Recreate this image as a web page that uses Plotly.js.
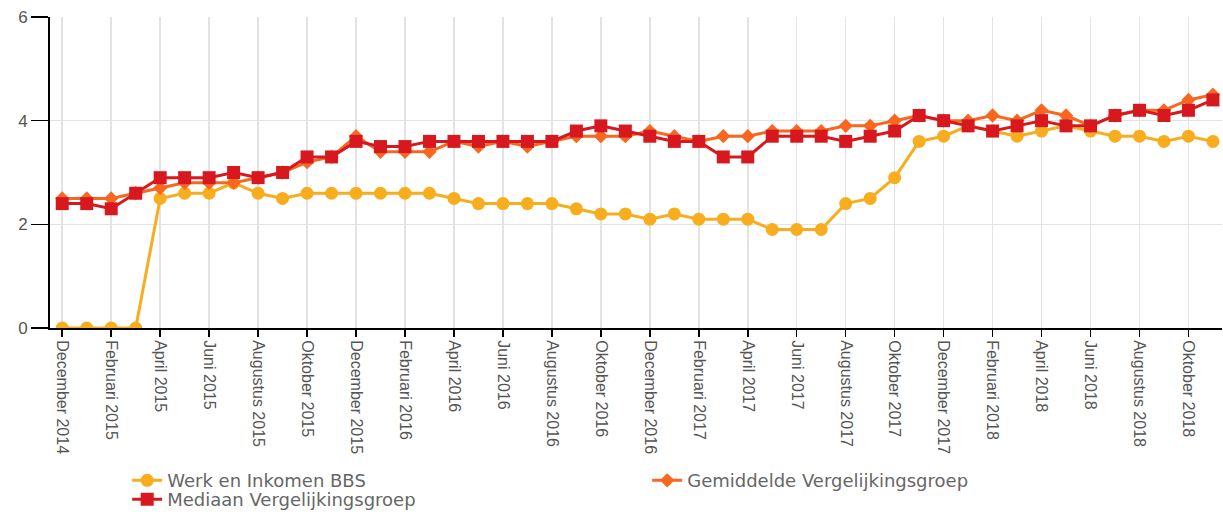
<!DOCTYPE html>
<html>
<head>
<meta charset="utf-8">
<script src="https://cdn.plot.ly/plotly-3.0.1.min.js"></script>
<style>html,body{margin:0;padding:0;background:#fff;}#chart{width:1223px;height:514px;}</style>
</head>
<body>
<div id="chart"></div>
<script>
const months = [
  "December 2014","Januari 2015","Februari 2015","Maart 2015","April 2015","Mei 2015","Juni 2015","Juli 2015","Augustus 2015","September 2015","Oktober 2015","November 2015",
  "December 2015","Januari 2016","Februari 2016","Maart 2016","April 2016","Mei 2016","Juni 2016","Juli 2016","Augustus 2016","September 2016","Oktober 2016","November 2016",
  "December 2016","Januari 2017","Februari 2017","Maart 2017","April 2017","Mei 2017","Juni 2017","Juli 2017","Augustus 2017","September 2017","Oktober 2017","November 2017",
  "December 2017","Januari 2018","Februari 2018","Maart 2018","April 2018","Mei 2018","Juni 2018","Juli 2018","Augustus 2018","September 2018","Oktober 2018","November 2018"
];
const tickLabels = months.filter((m, i) => i % 2 === 0);

const werkEnInkomen = [0,0,0,0,2.5,2.6,2.6,2.8,2.6,2.5,2.6,2.6,
  2.6,2.6,2.6,2.6,2.5,2.4,2.4,2.4,2.4,2.3,2.2,2.2,
  2.1,2.2,2.1,2.1,2.1,1.9,1.9,1.9,2.4,2.5,2.9,3.6,
  3.7,3.9,3.8,3.7,3.8,3.9,3.8,3.7,3.7,3.6,3.7,3.6];
const gemiddelde = [2.5,2.5,2.5,2.6,2.7,2.8,2.8,2.8,2.9,3.0,3.2,3.3,
  3.7,3.4,3.4,3.4,3.6,3.5,3.6,3.5,3.6,3.7,3.7,3.7,
  3.8,3.7,3.6,3.7,3.7,3.8,3.8,3.8,3.9,3.9,4.0,4.1,
  4.0,4.0,4.1,4.0,4.2,4.1,3.9,4.1,4.2,4.2,4.4,4.5];
const mediaan = [2.4,2.4,2.3,2.6,2.9,2.9,2.9,3.0,2.9,3.0,3.3,3.3,
  3.6,3.5,3.5,3.6,3.6,3.6,3.6,3.6,3.6,3.8,3.9,3.8,
  3.7,3.6,3.6,3.3,3.3,3.7,3.7,3.7,3.6,3.7,3.8,4.1,
  4.0,3.9,3.8,3.9,4.0,3.9,3.9,4.1,4.2,4.1,4.2,4.4];

const traces = [
  {name: "Werk en Inkomen BBS", x: months, y: werkEnInkomen, type: "scatter", mode: "lines+markers",
   line: {color: "#f7ad1d", width: 3}, marker: {symbol: "circle", size: 13, color: "#f7ad1d"}, legend: "legend"},
  {name: "Gemiddelde Vergelijkingsgroep", x: months, y: gemiddelde, type: "scatter", mode: "lines+markers",
   line: {color: "#f8661f", width: 3}, marker: {symbol: "diamond", size: 11, color: "#f8661f"}, legend: "legend"},
  {name: "Mediaan Vergelijkingsgroep", x: months, y: mediaan, type: "scatter", mode: "lines+markers",
   line: {color: "#d7191f", width: 3}, marker: {symbol: "square", size: 13, color: "#d7191f"}, legend: "legend2"}
];

const legendFont = {family: "DejaVu Sans, sans-serif", size: 18, color: "#666"};

const layout = {
  width: 1223, height: 514,
  margin: {l: 50, r: 1, t: 17, b: 186},
  paper_bgcolor: "#fff", plot_bgcolor: "#fff",
  font: {family: "Liberation Sans, Arial, sans-serif", color: "#555"},
  showlegend: true,
  xaxis: {
    type: "category", categoryorder: "array", categoryarray: months,
    range: [-0.5, 47.37], automargin: false,
    tickvals: tickLabels, ticktext: tickLabels,
    tickangle: 90, tickfont: {size: 16, color: "#555"},
    showgrid: true, gridcolor: "#e3e3e3", gridwidth: 1.5,
    showline: true, linecolor: "#000", linewidth: 2,
    ticks: "outside", ticklen: 7, tickcolor: "#000", tickwidth: 1.5,
    zeroline: false, fixedrange: true
  },
  yaxis: {
    range: [0, 6], tickvals: [0, 2, 4, 6], automargin: false,
    tickfont: {size: 17, color: "#555"},
    showgrid: true, gridcolor: "#e3e3e3", gridwidth: 1.5,
    showline: true, linecolor: "#000", linewidth: 2,
    ticks: "outside", ticklen: 17, tickcolor: "#000", tickwidth: 1.5,
    zeroline: false, fixedrange: true
  },
  legend: {
    orientation: "h", xref: "container", x: 0.104, xanchor: "left",
    yref: "container", y: 0.101, yanchor: "top",
    entrywidth: 475, entrywidthmode: "pixels",
    font: legendFont, itemwidth: 30, bgcolor: "rgba(0,0,0,0)"
  },
  legend2: {
    orientation: "h", xref: "container", x: 0.104, xanchor: "left",
    yref: "container", y: 0.064, yanchor: "top",
    font: legendFont, itemwidth: 30, bgcolor: "rgba(0,0,0,0)"
  }
};

Plotly.newPlot("chart", traces, layout, {displayModeBar: false, staticPlot: true});
</script>
</body>
</html>
